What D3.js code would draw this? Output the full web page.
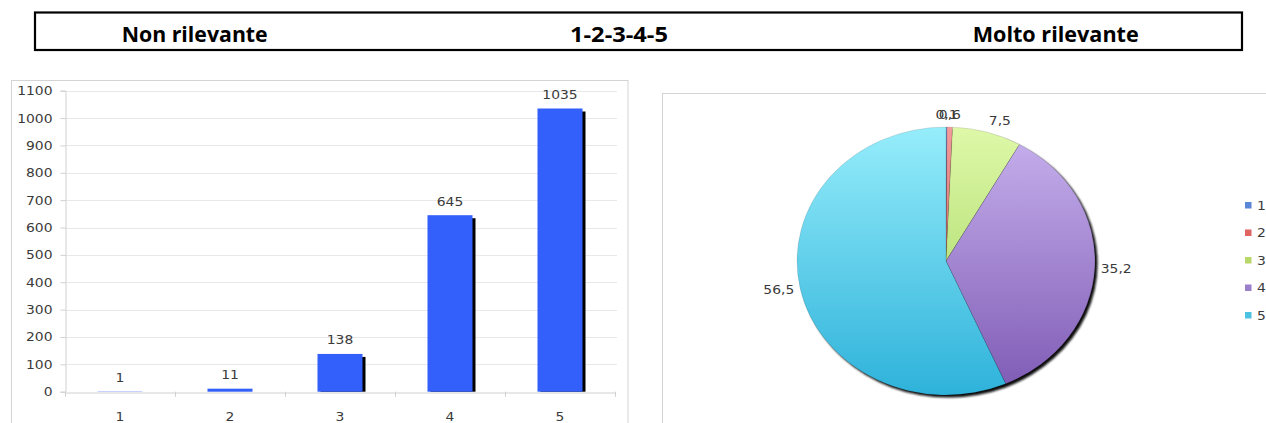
<!DOCTYPE html>
<html>
<head>
<meta charset="utf-8">
<script src="https://cdn.jsdelivr.net/npm/d3@7/dist/d3.min.js"></script>
<style>
  html, body { margin: 0; padding: 0; background: #fff; }
  svg { display: block; }
</style>
</head>
<body>
<svg id="chart" width="1266" height="423"></svg>
<script>
// ---------- data ----------
const headerLabels = ["Non rilevante", "1-2-3-4-5", "Molto rilevante"];
const categories = ["1", "2", "3", "4", "5"];
const counts = [1, 11, 138, 645, 1035];
const yTicks = [0, 100, 200, 300, 400, 500, 600, 700, 800, 900, 1000, 1100];
const percentages = [0.1, 0.6, 7.5, 35.2, 56.5];
const percentLabels = ["0,1", "0,6", "7,5", "35,2", "56,5"];
const legendLabels = ["1", "2", "3", "4", "5"];

// ---------- styles ----------
const svg = d3.select("#chart");
const chartFont = "'DejaVu Sans', Verdana, sans-serif";
const textColor = "#3a3a3a";
const fs = 12.3;
const stretch = 1.13;

// ---------- header box ----------
svg.append("rect")
  .attr("x", 35).attr("y", 12.5).attr("width", 1207).attr("height", 37.5)
  .attr("fill", "none").attr("stroke", "#000").attr("stroke-width", 2.2);

const headerPos = [{x: 121.7, w: 146}, {x: 570, w: 98}, {x: 972.7, w: 166}];
svg.selectAll("text.hdr").data(headerLabels).join("text")
  .attr("class", "hdr")
  .attr("x", (d, i) => headerPos[i].x)
  .attr("y", 41.5)
  .attr("textLength", (d, i) => headerPos[i].w)
  .attr("lengthAdjust", "spacingAndGlyphs")
  .attr("font-family", "'Open Sans', Lato, sans-serif")
  .attr("font-weight", "bold")
  .attr("font-size", 21)
  .attr("fill", "#000")
  .text(d => d);

// ---------- bar chart ----------
svg.append("rect")
  .attr("x", 11.5).attr("y", 80.5).attr("width", 616.5).attr("height", 360)
  .attr("fill", "#fff").attr("stroke", "#d4d4d4").attr("stroke-width", 1);

const x = d3.scaleBand().domain(categories).range([65, 615]);
const y = d3.scaleLinear().domain([0, 1100]).range([391.7, 90.7]);
const barW = 45;

const bars = svg.append("g");
// gridlines
bars.selectAll("line.grid").data(yTicks.filter(t => t > 0)).join("line")
  .attr("x1", 65).attr("x2", 617)
  .attr("y1", d => Math.round(y(d)) + 0.5).attr("y2", d => Math.round(y(d)) + 0.5)
  .attr("stroke", "#e8e8e8").attr("stroke-width", 1);

// y axis
const yAxis = d3.axisLeft(y).tickValues(yTicks).tickFormat(d3.format("d")).tickSize(5).tickPadding(8);
const yg = bars.append("g").attr("transform", "translate(65.5,0)").call(yAxis);
yg.select(".domain").attr("stroke", "#d0d0d0");
yg.selectAll(".tick line").attr("stroke", "#d0d0d0");
yg.selectAll(".tick text")
  .attr("font-family", chartFont).attr("font-size", fs).attr("fill", textColor)
  .each(function() {
    const t = d3.select(this);
    const xx = +t.attr("x");
    t.attr("x", null).attr("transform", `translate(${xx},0) scale(${stretch},1)`);
  });

// x axis
const xAxis = d3.axisBottom(x).tickSize(0).tickPadding(20);
const xg = bars.append("g").attr("transform", `translate(0,${Math.round(y(0)) + 0.5})`).call(xAxis);
xg.select(".domain").attr("stroke", "#d0d0d0");
xg.selectAll(".tick text")
  .attr("font-family", chartFont).attr("font-size", fs).attr("fill", textColor)
  .attr("dy", null).attr("y", null)
  .attr("transform", `translate(0,28.5) scale(${stretch},1)`);
// category boundary ticks
bars.selectAll("line.xtick").data(categories).join("line")
  .attr("x1", d => x(d) + x.bandwidth() + 0.5).attr("x2", d => x(d) + x.bandwidth() + 0.5)
  .attr("y1", y(0)).attr("y2", y(0) + 5)
  .attr("stroke", "#d0d0d0");
bars.append("line")
  .attr("x1", 65.5).attr("x2", 65.5).attr("y1", y(0)).attr("y2", y(0) + 5)
  .attr("stroke", "#d0d0d0");

// shadow bars
bars.selectAll("rect.shadow").data(counts).join("rect")
  .attr("class", "shadow")
  .attr("x", (d, i) => x(categories[i]) + (x.bandwidth() - barW) / 2 + 3)
  .attr("y", d => y(d) + 3)
  .attr("width", barW)
  .attr("height", d => Math.max(0, y(0) - y(d) - 3))
  .attr("fill", "#000");
// bars
bars.selectAll("rect.bar").data(counts).join("rect")
  .attr("class", "bar")
  .attr("x", (d, i) => x(categories[i]) + (x.bandwidth() - barW) / 2)
  .attr("y", d => y(d))
  .attr("width", barW)
  .attr("height", d => y(0) - y(d))
  .attr("fill", "#335ffa");
// value labels
bars.selectAll("text.val").data(counts).join("text")
  .attr("class", "val")
  .attr("text-anchor", "middle")
  .attr("transform", (d, i) => `translate(${x(categories[i]) + x.bandwidth() / 2},${y(d) - 9.5}) scale(${stretch},1)`)
  .attr("font-family", chartFont).attr("font-size", fs).attr("fill", textColor)
  .text(d => d);

// ---------- pie chart ----------
svg.append("rect")
  .attr("x", 662.5).attr("y", 93.5).attr("width", 640).attr("height", 360)
  .attr("fill", "#fff").attr("stroke", "#d4d4d4").attr("stroke-width", 1);

const cx = 946, cy = 261, ry = 134, rx = 149;

const sliceTop = ["#7fa2ee", "#f29a9a", "#def8a8", "#c8b2ee", "#96edfb"];
const sliceBot = ["#3e6cc8", "#d24e4e", "#9ed258", "#7e5ab4", "#2eb2da"];
const legendColors = ["#5a86d8", "#e06464", "#b9d86a", "#9a80cc", "#4cc2e2"];

const defs = svg.append("defs");
sliceTop.forEach((c, i) => {
  const g = defs.append("linearGradient")
    .attr("id", "grad" + i)
    .attr("gradientUnits", "userSpaceOnUse")
    .attr("x1", 0).attr("y1", cy - ry).attr("x2", 0).attr("y2", cy + ry);
  g.append("stop").attr("offset", "0%").attr("stop-color", c);
  g.append("stop").attr("offset", "100%").attr("stop-color", sliceBot[i]);
});
const blur = defs.append("filter").attr("id", "blur").attr("x", "-10%").attr("y", "-10%").attr("width", "120%").attr("height", "120%");
blur.append("feGaussianBlur").attr("stdDeviation", 0.8);

// shadow
svg.append("ellipse")
  .attr("cx", cx + 2.6).attr("cy", cy + 2.6).attr("rx", rx).attr("ry", ry)
  .attr("fill", "#111").attr("filter", "url(#blur)");

const pie = d3.pie().sort(null).value(d => d);
const arcs = pie(percentages);

const pieG = svg.append("g");
pieG.selectAll("path").data(arcs).join("path")
  .attr("d", d => {
    const a0 = d.startAngle, a1 = d.endAngle;
    const p0 = [cx + Math.sin(a0) * rx, cy - Math.cos(a0) * ry];
    const p1 = [cx + Math.sin(a1) * rx, cy - Math.cos(a1) * ry];
    const large = (a1 - a0) > Math.PI ? 1 : 0;
    return `M${cx},${cy}L${p0[0]},${p0[1]}A${rx},${ry} 0 ${large} 1 ${p1[0]},${p1[1]}Z`;
  })
  .attr("fill", (d, i) => `url(#grad${i})`)
  .attr("stroke", "rgba(0,0,0,0.18)")
  .attr("stroke-width", 0.6);

// pie labels
const lrx = rx + 6, lry = ry + 8;
svg.selectAll("text.pl").data(arcs).join("text")
  .attr("class", "pl")
  .each(function(d, i) {
    const a = (d.startAngle + d.endAngle) / 2;
    const s = Math.sin(a), c = Math.cos(a);
    const px = cx + s * lrx, py = cy - c * lry;
    const anchor = s > 0.1 ? "start" : (s < -0.1 ? "end" : "middle");
    let dy = "0.35em";
    if (c > 0.3) dy = "0em";
    else if (c < -0.3) dy = "0.75em";
    d3.select(this)
      .attr("text-anchor", anchor)
      .attr("dy", dy)
      .attr("transform", `translate(${px},${py}) scale(${stretch},1)`)
      .attr("font-family", chartFont).attr("font-size", fs).attr("fill", textColor)
      .text(percentLabels[i]);
  });

// legend
const leg = svg.append("g");
leg.selectAll("rect").data(legendLabels).join("rect")
  .attr("x", 1245).attr("y", (d, i) => 202 + i * 27.5)
  .attr("width", 6.5).attr("height", 6.5)
  .attr("fill", (d, i) => legendColors[i]);
leg.selectAll("text").data(legendLabels).join("text")
  .attr("transform", (d, i) => `translate(1257,${205.5 + i * 27.5}) scale(${stretch},1)`)
  .attr("dy", "0.35em")
  .attr("font-family", chartFont).attr("font-size", fs).attr("fill", textColor)
  .text(d => d);
</script>
</body>
</html>
